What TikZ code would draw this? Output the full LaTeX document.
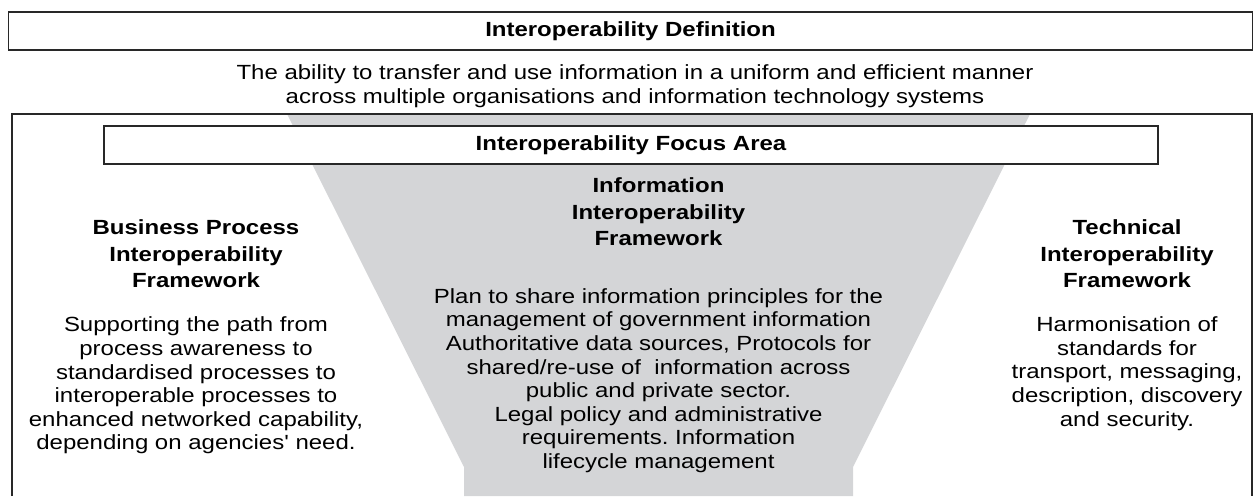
\documentclass[tikz,border=0pt]{standalone}
\usepackage{fontspec}
\setmainfont{Liberation Sans}[FakeStretch=1.17]
\newfontfamily\plainquote{Liberation Sans}[FakeStretch=1.17]
\frenchspacing
\definecolor{funnelgrey}{RGB}{212,213,215}
\definecolor{linegrey}{RGB}{40,40,40}
\tikzset{
  frame/.style={draw=linegrey, line width=1.1pt},
  bodytxt/.style={font=\fontsize{20.5}{23.6}\selectfont\frenchspacing, align=center, inner sep=0pt},
  headtxt/.style={font=\fontsize{20.5}{26.5}\selectfont\bfseries, align=center, inner sep=0pt},
  titlebox/.style={frame, fill=white, inner sep=0pt, font=\fontsize{20.5}{24}\selectfont\bfseries}
}
\begin{document}
\begin{tikzpicture}[x=1pt,y=1pt]
\useasboundingbox (0,0) rectangle (1259,-496);
% funnel
\fill[funnelgrey] (287,-114) -- (1030,-114) -- (853,-467) -- (853,-496) -- (464,-496) -- (464,-467) -- cycle;
% outer frame (open at bottom)
\coordinate (obl) at (12,-496);
\coordinate (otl) at (12,-114);
\coordinate (otr) at (1252,-114);
\coordinate (obr) at (1252,-496);
\draw[frame] (obl) -- (otl) -- (otr) -- (obr);
% definition
\node[titlebox, minimum width=1244pt, minimum height=38pt] (def) at (630.5,-31) {Interoperability Definition};
\node[bodytxt] (deftext) at (635,-86) {The ability to transfer and use information in a uniform and efficient manner\\across multiple organisations and information technology systems};
% focus area
\node[titlebox, minimum width=1054pt, minimum height=38pt] (focus) at (631,-145) {Interoperability Focus Area};
% centre column
\node[headtxt] (infohead) at (658.5,-212) {Information\\Interoperability\\Framework};
\node[bodytxt] (infobody) at (658.5,-380.5) {Plan to share information principles for the\\management of government information\\Authoritative data sources, Protocols for\\shared/re-use of\ \ information across\\public and private sector.\\Legal policy and administrative\\requirements. Information\\lifecycle management};
% left column
\node[headtxt] (bushead) at (196,-254) {Business Process\\Interoperability\\Framework};
\node[bodytxt] (busbody) at (196,-385.5) {Supporting the path from\\process awareness to\\standardised processes to\\interoperable processes to\\enhanced networked capability,\\depending on agencies{\plainquote'} need.};
% right column
\node[headtxt] (techhead) at (1127,-254) {Technical\\Interoperability\\Framework};
\node[bodytxt] (techbody) at (1127,-373.5) {Harmonisation of\\standards for\\transport, messaging,\\description, discovery\\and security.};
\end{tikzpicture}
\end{document}
